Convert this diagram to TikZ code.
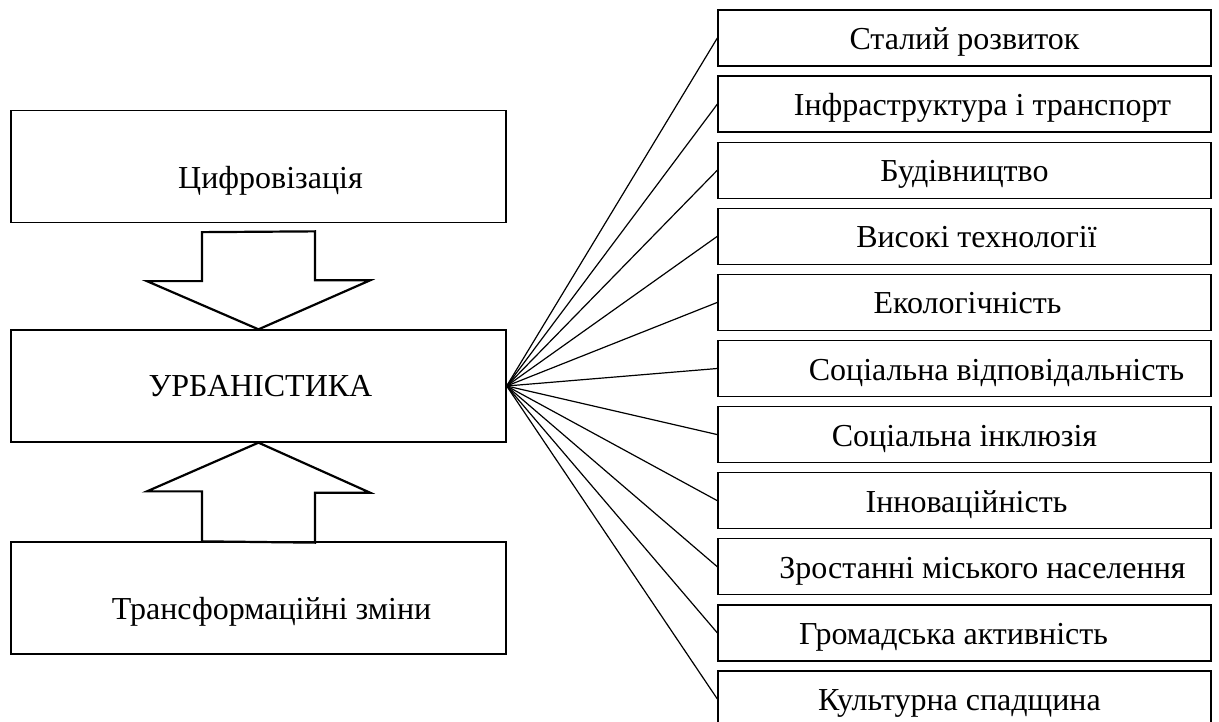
\documentclass[tikz,border=0pt]{standalone}
\usepackage{fontspec}
\setmainfont{Liberation Serif}
\usetikzlibrary{calc}
\newcommand{\shifttxt}[3]{\hspace*{#1}\raisebox{0pt}[\dimexpr\height+#2\relax][\depth]{#3}}

\begin{document}
\begin{tikzpicture}[x=1pt,y=-1pt,
    font=\fontsize{32}{38}\selectfont,
    leftbox/.style={draw,line width=1.3pt,minimum width=495pt,minimum height=112pt,inner sep=0pt},
    rightbox/.style={draw,line width=1.3pt,minimum width=493pt,minimum height=56pt,inner sep=0pt,
      text height=30pt,text depth=7pt},
    blockarrow/.style={draw,line width=2.2pt,line join=miter},
    fan/.style={line width=1.2pt}]
          \useasboundingbox (0,0) rectangle (1219,722);
          % left boxes
          \node[leftbox] (dig) at (258.5,166.5) {\shifttxt{24pt}{28pt}{Цифровізація}};
          \node[leftbox] (urb) at (258.5,386) {\shifttxt{4pt}{0pt}{УРБАНІСТИКА}};
          \node[leftbox] (trans) at (258.5,598) {\shifttxt{26pt}{28pt}{Трансформаційні зміни}};
          % right boxes
          \node[rightbox] (r1) at (964.5,38) {Сталий розвиток};
          \node[rightbox] (r2) at (964.5,104.1) {\shifttxt{36pt}{0pt}{Інфраструктура і транспорт}};
          \node[rightbox] (r3) at (964.5,170.2) {Будівництво};
          \node[rightbox] (r4) at (964.5,236.3) {\shifttxt{24pt}{0pt}{Високі технології}};
          \node[rightbox] (r5) at (964.5,302.4) {\shifttxt{6pt}{0pt}{Екологічність}};
          \node[rightbox] (r6) at (964.5,368.5) {\shifttxt{64pt}{0pt}{Соціальна відповідальність}};
          \node[rightbox] (r7) at (964.5,434.6) {Соціальна інклюзія};
          \node[rightbox] (r8) at (964.5,500.7) {\shifttxt{4pt}{0pt}{Інноваційність}};
          \node[rightbox] (r9) at (964.5,566.8) {\shifttxt{36pt}{0pt}{Зростанні міського населення}};
          \node[rightbox] (r10) at (964.5,632.9) {\shifttxt{-22pt}{0pt}{Громадська активність}};
          \node[rightbox] (r11) at (964.5,699) {\shifttxt{-10pt}{0pt}{Культурна спадщина}};
          % block arrows
          \draw[blockarrow] ($(dig.south)+(-56.5,9)$) -- ++(0,49) -- ++(-55,0) -- (urb.north)
            -- ++(111.5,-49) -- ++(-55,0) -- ++(0,-49) -- cycle;
          \draw[blockarrow] ($(trans.north)+(-56.5,0)$) -- ++(0,-50) -- ++(-55,0) -- (urb.south)
            -- ++(111.5,50) -- ++(-55,0) -- ++(0,50) -- cycle;
          % fan
          \foreach \i in {1,...,11}
            \draw[fan] (urb.east) -- (r\i.west);
        \end{tikzpicture}
\end{document}
